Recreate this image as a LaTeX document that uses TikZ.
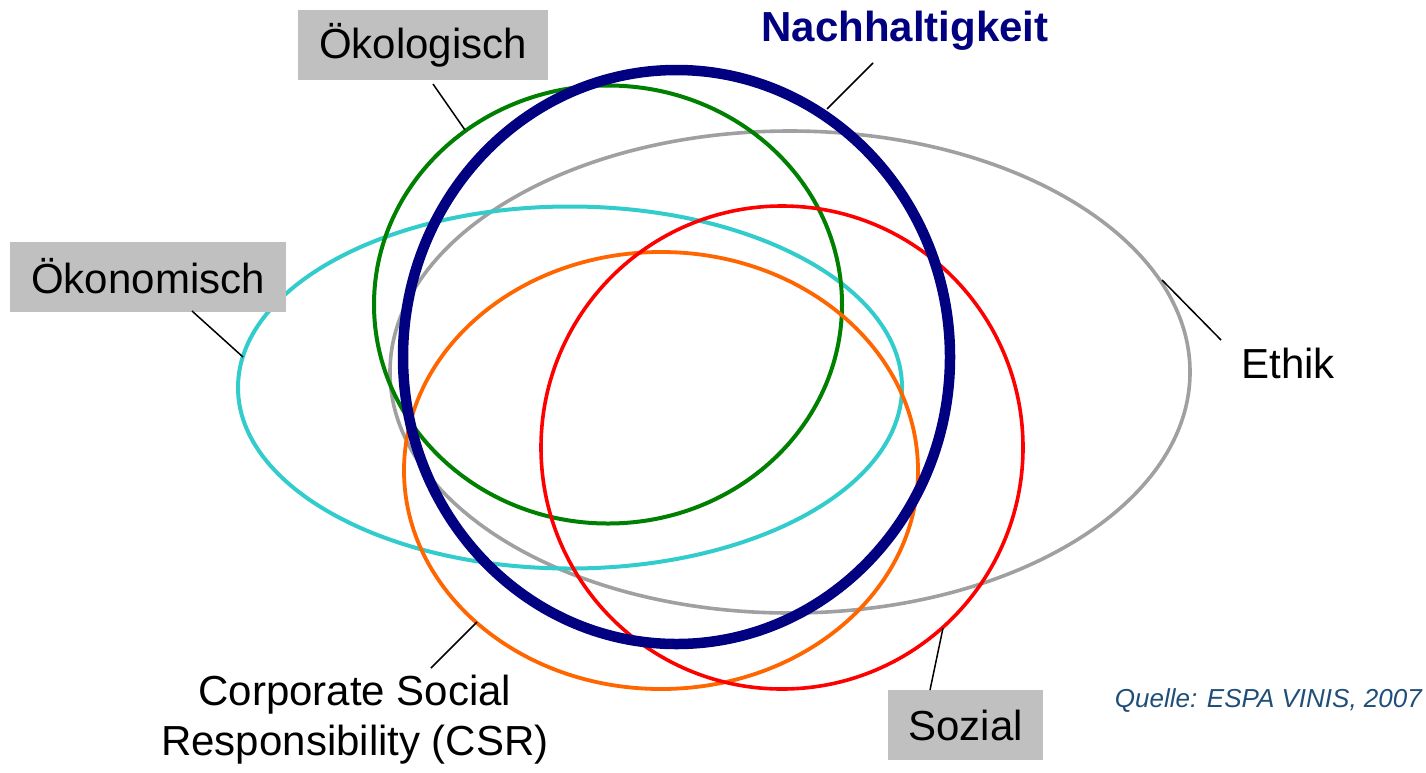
\documentclass[tikz,border=0pt]{standalone}
\usepackage{fontspec}
\setmainfont{Liberation Sans}
\definecolor{boxgray}{RGB}{192,192,192}
\definecolor{cgray}{RGB}{160,160,160}
\definecolor{cnavy}{RGB}{0,0,128}
\definecolor{cgreen}{RGB}{0,128,0}
\definecolor{ccyan}{RGB}{51,204,204}
\definecolor{corange}{RGB}{255,102,0}
\definecolor{cred}{RGB}{255,0,0}
\definecolor{cquelle}{RGB}{31,78,121}
\begin{document}
\begin{tikzpicture}[x=1pt,y=-1pt,
  lbl/.style={font=\fontsize{42}{50}\selectfont, inner sep=0pt},
  boxlbl/.style={lbl, fill=boxgray, minimum height=70pt},
  leader/.style={draw=black, line width=1.5pt},
  ring/.style={line width=4pt}]
\useasboundingbox (0,0) rectangle (1426,772);
\fill[white] (0,0) rectangle (1426,772);

% ellipses
\draw[ring, cgray, line width=3.6pt] (790,372) ellipse [x radius=400pt, y radius=241pt];
\draw[ring, ccyan] (570,387.5) ellipse [x radius=332pt, y radius=181pt];
\draw[ring, cgreen] (608,304.5) ellipse [x radius=234pt, y radius=219pt];
\draw[ring, corange, line width=3.8pt] (661,470.5) ellipse [x radius=257pt, y radius=218.5pt];
\draw[ring, cred, line width=3.6pt] (782,447.5) ellipse [x radius=241pt, y radius=241.5pt];
\draw[cnavy, line width=10.5pt] (676.5,357) ellipse [x radius=273.5pt, y radius=287pt];

% labels
\node[boxlbl, minimum width=250pt] (oek) at (423,45) {Ökologisch};
\node[lbl, font=\fontsize{42}{50}\selectfont\bfseries, text=cnavy] (nach) at (905,31) {Nachhaltigkeit};
\node[boxlbl, minimum width=276pt, minimum height=70pt] (oekon) at (148,276.5) {Ökonomisch};
\node[lbl] (ethik) at (1288,363) {Ethik};
\node[lbl, align=center] (csr) at (355,720) {Corporate Social\\Responsibility (CSR)};
\node[boxlbl, minimum width=155pt] (sozial) at (965.5,725) {Sozial};
\node[inner sep=0pt, anchor=east, text=cquelle, font=\fontsize{26}{30}\selectfont\itshape] (quelle) at (1422,701) {Quelle: ESPA VINIS, 2007};

% leader line end points
\coordinate (oekA) at (433,84);
\coordinate (oekB) at (465,130);
\coordinate (nachA) at (873,63);
\coordinate (nachB) at (827,109);
\coordinate (oekonA) at (192,311);
\coordinate (oekonB) at (243,357);
\coordinate (ethikA) at (1221,340);
\coordinate (ethikB) at (1162,280);
\coordinate (csrA) at (431,668);
\coordinate (csrB) at (477,622);
\coordinate (sozA) at (930,690);
\coordinate (sozB) at (943,628);

\draw[leader] (oekA) -- (oekB);
\draw[leader] (nachA) -- (nachB);
\draw[leader] (oekonA) -- (oekonB);
\draw[leader] (ethikA) -- (ethikB);
\draw[leader] (csrA) -- (csrB);
\draw[leader] (sozA) -- (sozB);
\end{tikzpicture}
\end{document}
